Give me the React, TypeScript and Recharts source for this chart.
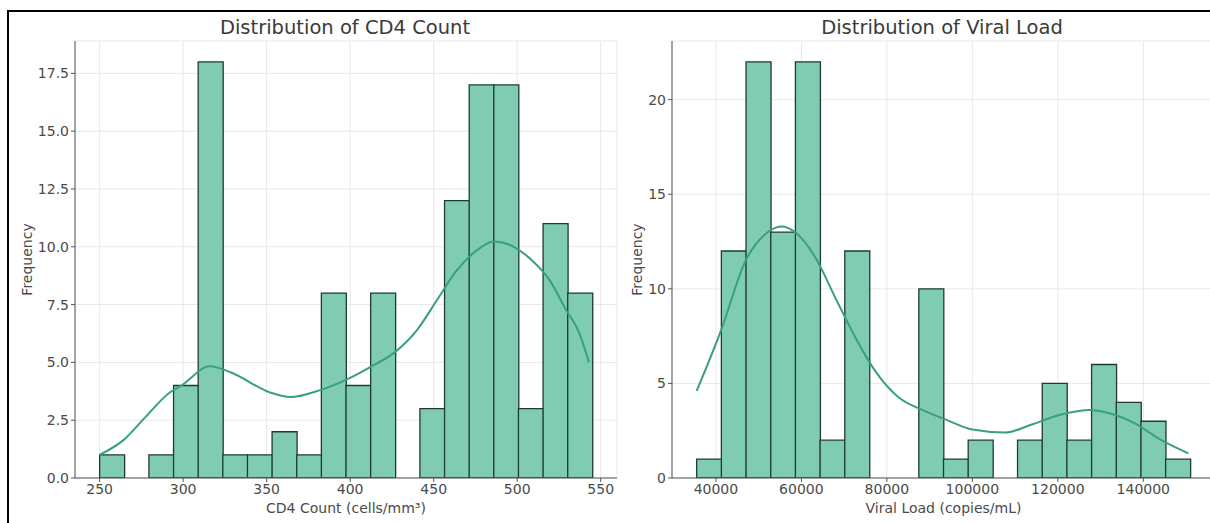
import React from 'react';
import { ComposedChart, LineChart, Bar, Line, XAxis, YAxis, CartesianGrid, Label } from 'recharts';

// CD4 histogram (20 bins, 250 - 545)
const cd4BinCenters = [257.375, 272.125, 286.875, 301.625, 316.375, 331.125, 345.875, 360.625, 375.375, 390.125,
  404.875, 419.625, 434.375, 449.125, 463.875, 478.625, 493.375, 508.125, 522.875, 537.625];
const cd4Counts = [1, 0, 1, 4, 18, 1, 1, 2, 1, 8, 4, 8, 0, 3, 12, 17, 17, 3, 11, 8];
const cd4KdeX = [250, 264.6, 277, 292, 299, 316, 329, 352, 364, 382, 399, 412, 426, 440, 452, 463, 475, 486, 498, 509, 519, 529, 537, 543];
const cd4KdeY = [1.0, 1.66, 2.6, 3.7, 4.0, 4.83, 4.55, 3.7, 3.5, 3.8, 4.3, 4.8, 5.4, 6.4, 7.7, 8.9, 9.8, 10.23, 10.0, 9.4, 8.6, 7.3, 6.3, 5.0];
const cd4Ticks = [250, 300, 350, 400, 450, 500, 550];
const cd4YTicks = [0, 2.5, 5, 7.5, 10, 12.5, 15, 17.5];

// Viral load histogram (20 bins, 35500 - 151000)
const vlBinCenters = [38387.5, 44162.5, 49937.5, 55712.5, 61487.5, 67262.5, 73037.5, 78812.5, 84587.5, 90362.5,
  96137.5, 101912.5, 107687.5, 113462.5, 119237.5, 125012.5, 130787.5, 136562.5, 142337.5, 148112.5];
const vlCounts = [1, 12, 22, 13, 22, 2, 12, 0, 0, 10, 1, 2, 0, 2, 5, 2, 6, 4, 3, 1];
const vlKdeX = [35487, 41354, 46769, 52184, 55343, 58501, 63014, 68429, 72941, 77454, 82869, 88284, 93699, 100016,
  107688, 113554, 120774, 127543, 131604, 137922, 144239, 150556];
const vlKdeY = [4.6, 7.9, 11.4, 13.0, 13.3, 13.0, 11.75, 9.3, 7.3, 5.6, 4.24, 3.6, 3.1, 2.56, 2.4, 2.8, 3.36, 3.6, 3.45, 2.9, 2.0, 1.3];
const vlTicks = [40000, 60000, 80000, 100000, 120000, 140000];
const vlYTicks = [0, 5, 10, 15, 20];

const cd4Bars = cd4BinCenters.map((x, i) => ({ x, count: cd4Counts[i] }));
const cd4Kde = cd4KdeX.map((x, i) => ({ x, y: cd4KdeY[i] }));
const vlBars = vlBinCenters.map((x, i) => ({ x, count: vlCounts[i] }));
const vlKde = vlKdeX.map((x, i) => ({ x, y: vlKdeY[i] }));

const FONT = '"DejaVu Sans", sans-serif';
const BAR_FILL = '#7fccb3';
const BAR_EDGE = '#1f3a33';
const KDE = '#3a9f82';
const tickStyle = { fontSize: 14, fill: '#4a4a4a', fontFamily: FONT };

const yLabel = (x: number) => (props: any) => {
  const vb = props.viewBox || {};
  const cy = vb.y + vb.height / 2;
  return (
    <text x={x} y={cy} transform={`rotate(-90, ${x}, ${cy})`} textAnchor="middle" dominantBaseline="central"
      fontSize={14} fill="#4a4a4a" fontFamily={FONT}>Frequency</text>
  );
};

type PanelProps = {
  left: number,
  width: number,
  yWidth: number,
  rightMargin: number,
  bars: { x: number, count: number }[],
  kde: { x: number, y: number }[],
  xDomain: [number, number],
  yDomain: [number, number],
  xTicks: number[],
  yTicks: number[],
  yFmt: (v: number) => string,
  xLabel: string,
  labelX: number,
};

const H = 523;

const Panel: React.FC<PanelProps> = (p) => {
  const margin = { top: 41, right: p.rightMargin, bottom: 0, left: 0 };
  return (
    <>
      <div style={{ position: 'absolute', left: p.left, top: 0 }}>
        <ComposedChart width={p.width} height={H} data={p.bars} margin={margin} barCategoryGap={0} barGap={0}>
          <CartesianGrid stroke="#e8e8e8" strokeWidth={1} />
          <XAxis dataKey="x" type="number" domain={p.xDomain} allowDataOverflow ticks={p.xTicks} height={45}
            tick={tickStyle} tickSize={4} tickMargin={2} stroke="#555" interval={0}>
            <Label value={p.xLabel} position="insideBottom" offset={10}
              style={{ fontSize: 14, fill: '#4a4a4a', fontFamily: FONT }} />
          </XAxis>
          <YAxis type="number" domain={p.yDomain} allowDataOverflow ticks={p.yTicks} width={p.yWidth}
            tick={tickStyle} tickSize={4} tickMargin={2} stroke="#555" tickFormatter={p.yFmt} interval={0}>
            <Label content={yLabel(p.labelX)} />
          </YAxis>
          <Bar dataKey="count" fill={BAR_FILL} stroke={BAR_EDGE} strokeWidth={1.3} isAnimationActive={false} />
        </ComposedChart>
      </div>
      <div style={{ position: 'absolute', left: p.left, top: 0 }}>
        <LineChart width={p.width} height={H} data={p.kde} margin={margin}>
          <XAxis dataKey="x" type="number" domain={p.xDomain} allowDataOverflow height={45}
            tick={false} axisLine={false} tickLine={false} />
          <YAxis type="number" domain={p.yDomain} allowDataOverflow width={p.yWidth}
            tick={false} axisLine={false} tickLine={false} />
          <Line type="monotone" dataKey="y" stroke={KDE} strokeWidth={2} dot={false} isAnimationActive={false} />
        </LineChart>
      </div>
    </>
  );
};

const titleStyle: React.CSSProperties = {
  position: 'absolute', top: 17, width: 400, textAlign: 'center', fontFamily: FONT,
  fontSize: 19.5, lineHeight: '22px', color: '#3a3a3a',
};

export default function App() {
  return (
    <div style={{ position: 'absolute', left: 0, top: 0, width: 1210, height: H, overflow: 'hidden', background: '#fff' }}>
      <div style={{ position: 'absolute', left: 7, top: 10, width: 1220, height: 530,
        borderLeft: '2px solid #000', borderTop: '2px solid #000' }} />
      <Panel left={0} width={640} yWidth={75} rightMargin={23} bars={cd4Bars} kde={cd4Kde}
        xDomain={[235.25, 559.75]} yDomain={[0, 18.9]} xTicks={cd4Ticks} yTicks={cd4YTicks}
        yFmt={(v) => v.toFixed(1)} xLabel="CD4 Count (cells/mm³)" labelX={27} />
      <Panel left={600} width={640} yWidth={72} rightMargin={25} bars={vlBars} kde={vlKde}
        xDomain={[29725, 156775]} yDomain={[0, 23.1]} xTicks={vlTicks} yTicks={vlYTicks}
        yFmt={(v) => String(v)} xLabel="Viral Load (copies/mL)" labelX={37} />
      <div style={{ ...titleStyle, left: 145 }}>Distribution of CD4 Count</div>
      <div style={{ ...titleStyle, left: 742 }}>Distribution of Viral Load</div>
    </div>
  );
}
